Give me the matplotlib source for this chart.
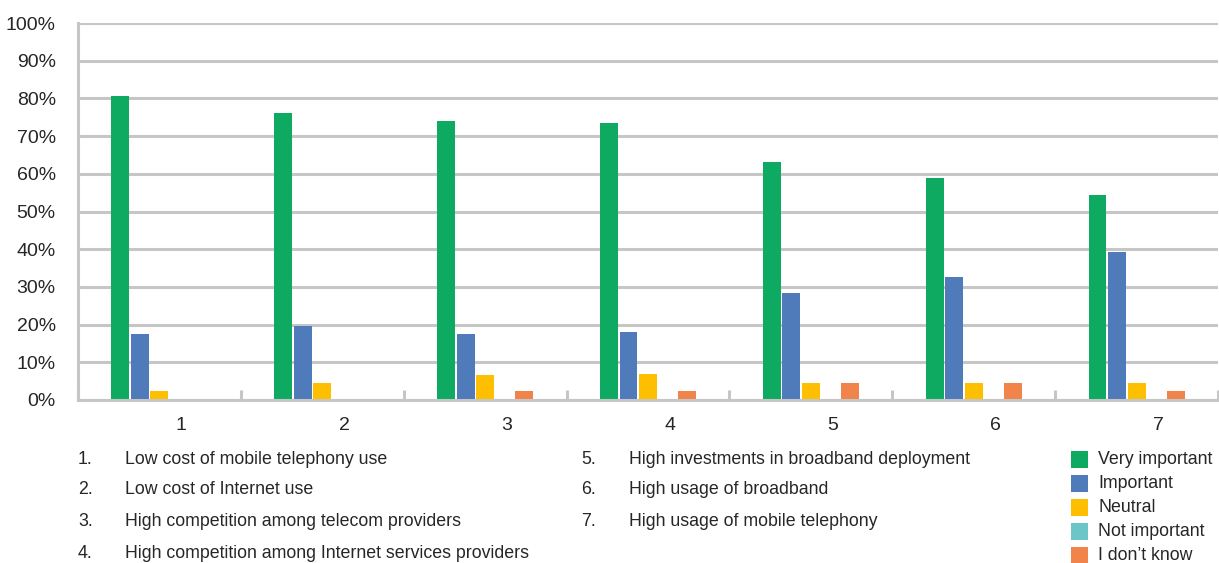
import matplotlib
matplotlib.use("Agg")
import matplotlib.pyplot as plt
from matplotlib.patches import Rectangle
from matplotlib.ticker import FixedLocator, PercentFormatter
import numpy as np

plt.rcParams['font.family'] = ['Liberation Sans', 'DejaVu Sans']

categories = ["1", "2", "3", "4", "5", "6", "7"]
series_names = ["Very important", "Important", "Neutral", "Not important", "I don\u2019t know"]
very_important = [80.6, 76.1, 74.0, 73.5, 63.1, 58.9, 54.4]
important = [17.5, 19.6, 17.5, 18.0, 28.4, 32.6, 39.3]
neutral = [2.4, 4.5, 6.6, 6.9, 4.5, 4.5, 4.5]
not_important = [0, 0, 0, 0, 0, 0, 0]
dont_know = [0, 0, 2.4, 2.4, 4.5, 4.5, 2.4]
colors = ["#0EAA62", "#4F7BBA", "#FDBF00", "#6CC5C6", "#F0844A"]

factors_left = [
    ("1.", "Low cost of mobile telephony use"),
    ("2.", "Low cost of Internet use"),
    ("3.", "High competition among telecom providers"),
    ("4.", "High competition among Internet services providers"),
]
factors_right = [
    ("5.", "High investments in broadband deployment"),
    ("6.", "High usage of broadband"),
    ("7.", "High usage of mobile telephony"),
]

W, H = 1219, 563
fig = plt.figure(figsize=(W / 100, H / 100), dpi=100)
ax = fig.add_axes([78 / W, 1 - 400 / H, (1218 - 78) / W, (400 - 23) / H])

grid_c = "#C6C6C6"
text_c = "#262626"

x = np.arange(len(categories))
step = 0.12
width = 0.11
all_series = [very_important, important, neutral, not_important, dont_know]
for i, (vals, col) in enumerate(zip(all_series, colors)):
    ax.bar(x + (i - 2) * step, vals, width=width, color=col, zorder=3, linewidth=0)

ax.set_xlim(-0.5, len(categories) - 0.5)
ax.set_ylim(0, 100)
ax.yaxis.set_major_locator(FixedLocator(np.arange(0, 101, 10)))
ax.yaxis.set_major_formatter(PercentFormatter(decimals=0))
ax.grid(axis='y', color=grid_c, linewidth=2.2, zorder=0)
ax.set_axisbelow(True)

for s in ["top", "right"]:
    ax.spines[s].set_visible(False)
for s in ["left", "bottom"]:
    ax.spines[s].set_color(grid_c)
    ax.spines[s].set_linewidth(2.2)
    ax.spines[s].set_zorder(4)

# category labels sit slightly right of each group's centre
ax.set_xticks(x + 0.135)
ax.set_xticklabels(categories)
ax.set_xticks(np.arange(-0.5, len(categories), 1.0), minor=True)
ax.tick_params(axis='x', which='major', length=0, pad=12, labelsize=14, labelcolor=text_c)
ax.tick_params(axis='x', which='minor', direction='in', length=7, width=2.2, color=grid_c)
ax.tick_params(axis='y', length=0, pad=16, labelsize=14, labelcolor=text_c)

# numbered list of factors below the chart
fs = 12.8
left_rows = [459, 490, 521, 553]
for (num, txt), yp in zip(factors_left, left_rows):
    fig.text(78 / W, 1 - yp / H, num, fontsize=fs, color=text_c, va='center', ha='left')
    fig.text(125 / W, 1 - yp / H, txt, fontsize=fs, color=text_c, va='center', ha='left')
for (num, txt), yp in zip(factors_right, left_rows):
    fig.text(581 / W, 1 - yp / H, num, fontsize=fs, color=text_c, va='center', ha='left')
    fig.text(629 / W, 1 - yp / H, txt, fontsize=fs, color=text_c, va='center', ha='left')

# legend drawn as colour squares with labels
leg_rows = [459, 483, 507, 531, 555]
for name, col, yp in zip(series_names, colors, leg_rows):
    fig.patches.append(Rectangle((1071 / W, 1 - (yp + 8.5) / H), 17 / W, 17 / H,
                                 transform=fig.transFigure, color=col, linewidth=0))
    fig.text(1098 / W, 1 - yp / H, name, fontsize=fs, color=text_c, va='center', ha='left')

fig.savefig("out.png", dpi=100)
